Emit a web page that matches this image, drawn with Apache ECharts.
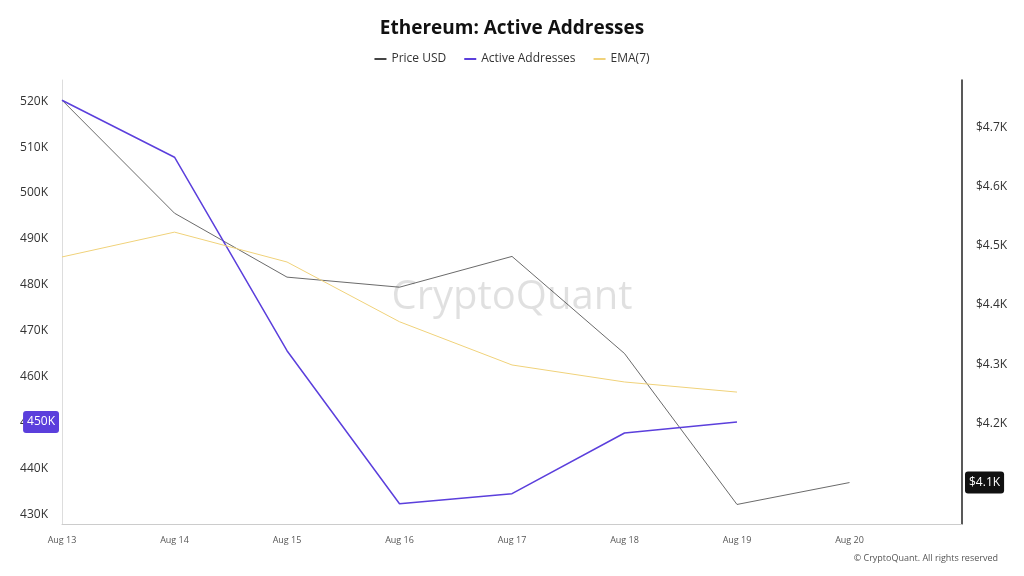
<!DOCTYPE html>
<html><head><meta charset="utf-8">
<script src="https://cdn.jsdelivr.net/npm/echarts@6/dist/echarts.min.js"></script>
<style>html,body{margin:0;background:#fff}#c{width:1024px;height:576px}</style>
</head><body><div id="c"></div>
<script>
const categories = ['Aug 13','Aug 14','Aug 15','Aug 16','Aug 17','Aug 18','Aug 19','Aug 20',''];
const priceUSD = [4.746,4.555,4.447,4.430,4.482,4.318,4.063,4.100];
const activeAddresses = [520.2,507.8,465.7,432.4,434.6,447.8,450.2];
const ema7 = [486.1,491.5,485.0,472.0,462.6,458.9,456.7];
const isMult = (v, s) => Math.abs(v / s - Math.round(v / s)) < 1e-6;
const chart = echarts.init(document.getElementById('c'));
const font = 'Open Sans';
chart.setOption({
  animation: false,
  textStyle: {fontFamily: font},
  title: {text: 'Ethereum: Active Addresses', left: 'center', top: 14,
    textStyle: {fontSize: 19, fontWeight: 'bold', color: '#111', fontFamily: font}},
  legend: {top: 48, itemWidth: 12, itemHeight: 2, icon: 'rect', itemGap: 18,
    textStyle: {fontSize: 12, color: '#333'},
    data: ['Price USD','Active Addresses','EMA(7)']},
  graphic: [
    {type: 'text', left: 'center', top: 278, style: {text: 'CryptoQuant', fontSize: 40, fill: 'rgba(0,0,0,0.12)', fontFamily: font}},
    {type: 'text', right: 26, top: 554, style: {text: '© CryptoQuant. All rights reserved', fontSize: 9, fill: '#555', fontFamily: font}}
  ],
  grid: {left: 62, right: 62, top: 80, bottom: 52},
  xAxis: {type: 'category', data: categories, boundaryGap: false,
    axisLine: {lineStyle: {color: '#ccc'}}, axisTick: {show: false},
    axisLabel: {fontSize: 9, color: '#555', margin: 12}},
  yAxis: [
    {type: 'value', min: 428, max: 524.6, interval: 2, position: 'left',
     axisLine: {show: true, lineStyle: {color: '#ddd'}}, axisTick: {show: false},
     splitLine: {show: false},
     axisLabel: {fontSize: 12, color: '#333', margin: 14,
       formatter: v => isMult(v, 10) ? Math.round(v) + 'K' : ''},
     axisPointer: {show: true, value: 450.2, status: 'show', triggerTooltip: false,
       lineStyle: {opacity: 0}, label: {backgroundColor: '#5b3fdc', color: '#fff', fontSize: 12, padding: [5, 4], formatter: '450K'}}},
    {type: 'value', min: 4.03, max: 4.78, interval: 0.01, position: 'right',
     axisLine: {show: true, lineStyle: {color: '#222', width: 1.5}}, axisTick: {show: false},
     splitLine: {show: false},
     axisLabel: {fontSize: 12, color: '#333', margin: 14,
       formatter: v => (isMult(v, 0.1) && v > 4.15) ? '$' + v.toFixed(1) + 'K' : ''},
     axisPointer: {show: true, value: 4.1, status: 'show', triggerTooltip: false,
       lineStyle: {opacity: 0}, label: {backgroundColor: '#111', color: '#fff', fontSize: 12, padding: [5, 4], formatter: '$4.1K'}}}
  ],
  series: [
    {name: 'Price USD', type: 'line', yAxisIndex: 1, data: priceUSD, symbol: 'none',
     lineStyle: {color: '#444', width: 0.8}, itemStyle: {color: '#444'}},
    {name: 'Active Addresses', type: 'line', yAxisIndex: 0, data: activeAddresses, symbol: 'none',
     lineStyle: {color: '#5b3fdc', width: 1.5}, itemStyle: {color: '#5b3fdc'}},
    {name: 'EMA(7)', type: 'line', yAxisIndex: 0, data: ema7, symbol: 'none',
     lineStyle: {color: '#f0d27a', width: 1}, itemStyle: {color: '#f0d27a'}}
  ]
});
</script></body></html>
